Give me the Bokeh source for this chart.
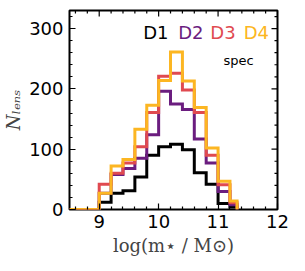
import math
from bokeh.plotting import figure
from bokeh.models import LinearAxis, Range1d, Label, FixedTicker
from bokeh.embed import file_html
from bokeh.resources import INLINE

# bin edges (leading empty bin from 8.5 to 9.0)
edges = [8.5, 9.0, 9.2, 9.4, 9.6, 9.8, 10.0, 10.2, 10.4, 10.6, 10.8, 11.0, 11.2, 11.32]
d1 = [0, 12, 27, 31, 54, 90, 104, 108, 99, 61, 42, 10, 4]
d2 = [0, 27, 58, 68, 85, 124, 196, 175, 166, 117, 77, 30, 8]
d3 = [0, 42, 60, 77, 104, 161, 221, 226, 198, 161, 90, 41, 11]
d4 = [0, 27, 72, 83, 133, 173, 214, 261, 213, 169, 102, 47, 14]
names = ["D1", "D2", "D3", "D4"]
colors = ["#000000", "#6b1d7f", "#e04a50", "#fcb622"]
x_ticks = [9, 10, 11, 12]
x_minor = [8.6, 8.8, 9.2, 9.4, 9.6, 9.8, 10.2, 10.4, 10.6, 10.8, 11.2, 11.4, 11.6, 11.8]
y_ticks = [0, 100, 200, 300]
y_minor = [20, 40, 60, 80, 120, 140, 160, 180, 220, 240, 260, 280, 320]
X0, X1, Y0, Y1 = 8.5, 12, 0, 330

p = figure(width=289, height=263, output_backend="svg", toolbar_location=None,
           x_range=Range1d(X0, X1), y_range=Range1d(Y0, Y1),
           x_axis_location=None, y_axis_location=None,
           min_border_left=66, min_border_right=15, min_border_top=10, min_border_bottom=54)
p.frame_width = 208
p.frame_height = 199
p.grid.visible = False
p.outline_line_color = "black"
p.outline_line_width = 2
p.background_fill_color = "white"
p.border_fill_color = "white"

for vals, c in zip([d1, d2, d3, d4], colors):
    p.step(x=edges, y=vals + [0], mode="after", line_color=c, line_width=3, line_join="miter")

def style_axis(ax):
    ax.axis_line_color = None
    ax.major_tick_in = 6
    ax.major_tick_out = 0
    ax.minor_tick_in = 3
    ax.minor_tick_out = 0
    ax.major_tick_line_color = "black"
    ax.minor_tick_line_color = "black"
    ax.major_tick_line_width = 1.2
    ax.minor_tick_line_width = 1.2
    ax.major_label_text_font = "DejaVu Sans"
    ax.major_label_text_font_size = "18px"
    ax.major_label_text_color = "black"

xb = LinearAxis(ticker=FixedTicker(ticks=x_ticks, minor_ticks=x_minor))
style_axis(xb)
xb.major_label_standoff = 5
xb.axis_label = "log(m\u22c6 / M\u2299)"
xb.axis_label_text_font = "DejaVu Serif"
xb.axis_label_text_font_style = "normal"
xb.axis_label_text_font_size = "18px"
xb.axis_label_standoff = 4
p.add_layout(xb, "below")

yl = LinearAxis(ticker=FixedTicker(ticks=y_ticks, minor_ticks=y_minor))
style_axis(yl)
yl.major_label_standoff = 6
yl.axis_label = "N\u2097\u2091\u2099\u209b"
yl.axis_label_text_font = "DejaVu Serif"
yl.axis_label_text_font_style = "italic"
yl.axis_label_text_font_size = "18px"
yl.axis_label_standoff = 2
p.add_layout(yl, "left")

# mirrored inward ticks on the top and right frame edges (half of each dash is clipped)
p.scatter(x=x_ticks, y=[Y1] * len(x_ticks), marker="dash", size=12, angle=math.pi / 2,
          line_color="black", line_width=1.2)
p.scatter(x=x_minor, y=[Y1] * len(x_minor), marker="dash", size=6, angle=math.pi / 2,
          line_color="black", line_width=1.2)
p.scatter(x=[X1] * len(y_ticks), y=y_ticks, marker="dash", size=12,
          line_color="black", line_width=1.2)
p.scatter(x=[X1] * len(y_minor), y=y_minor, marker="dash", size=6,
          line_color="black", line_width=1.2)

label_x = [9.74, 10.33, 10.87, 11.43]
for nm, c, lx in zip(names, colors, label_x):
    p.add_layout(Label(x=lx, y=294, text=nm, text_color=c, text_font="DejaVu Sans",
                       text_font_size="18px", text_baseline="middle", text_align="left"))
p.add_layout(Label(x=11.09, y=247, text="spec", text_color="black", text_font="DejaVu Sans",
                   text_font_size="13px", text_baseline="middle", text_align="left"))

open("out.html", "w").write(file_html(p, INLINE))
